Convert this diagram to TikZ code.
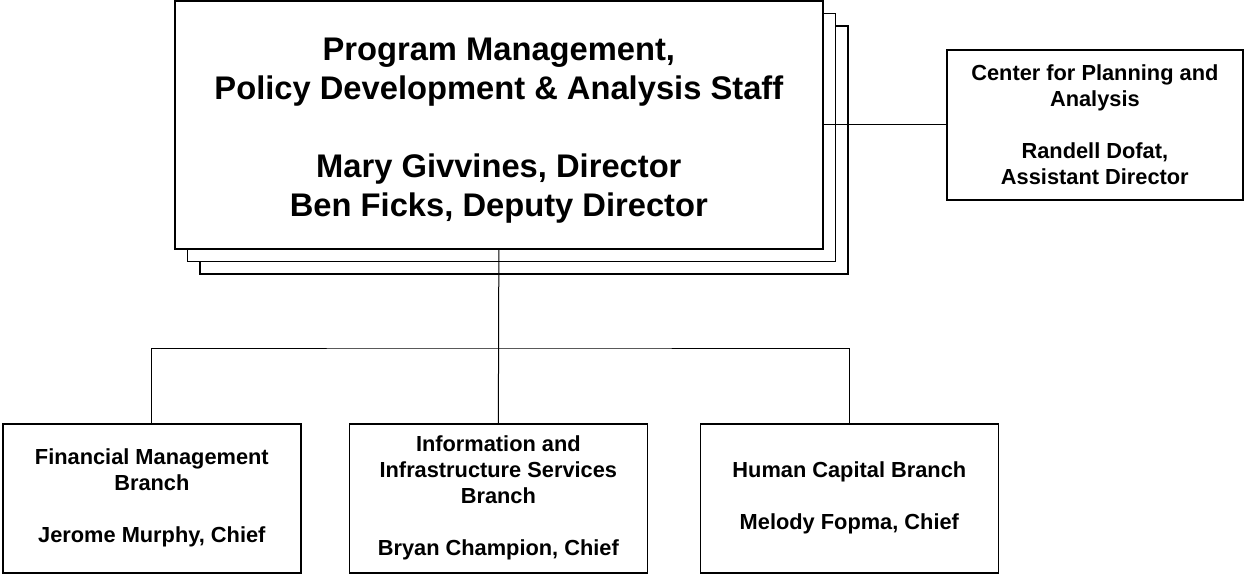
\documentclass[tikz,border=0pt]{standalone}
\usepackage{fontspec}
\setmainfont{Liberation Sans}

\begin{document}
\begin{tikzpicture}[x=1pt, y=-1pt,
        box/.style={draw, line width=1.7pt, fill=white, inner sep=0pt, align=center, anchor=north west,
            font=\bfseries\fontsize{21.8}{26}\selectfont},
        bigbox/.style={box, minimum width=648pt, minimum height=248pt,
            font=\bfseries\fontsize{32.7}{39}\selectfont},
        branch/.style={box, minimum width=298pt, minimum height=149pt},
        link/.style={line width=1pt}]
        \useasboundingbox (0,0) rectangle (1244,581);
        % staff office with its stacked copies
        \node[bigbox] (pmpd3) at (199,25) {};
        \node[bigbox] (pmpd2) at (186.5,12.5) {};
        \node[bigbox] (pmpd) at (174,0) {\rule{0pt}{34pt}Program Management,\\Policy Development \& Analysis Staff\\[39pt]Mary Givvines, Director\\Ben Ficks, Deputy Director};
        \node[box, minimum width=296pt, minimum height=150pt] (cpa) at (946,49) {Center for Planning and\\Analysis\\[26pt]Randell Dofat,\\Assistant Director};
        % branches
        \node[branch] (fmb) at (2,423) {Financial Management\\Branch\\[26pt]Jerome Murphy, Chief};
        \node[branch] (iisb) at (348.5,423) {Information and\\Infrastructure Services\\Branch\\[26pt]Bryan Champion, Chief};
        \node[branch] (hcb) at (699.5,423) {Human Capital Branch\\[26pt]Melody Fopma, Chief};
        \coordinate (bus) at (498,348);
        \draw[link] (pmpd.east) -- (cpa.west |- pmpd.east);
        \draw[link] (pmpd.south) -- (iisb.north);
        \draw[link] (fmb.north) |- (bus) -| (hcb.north);
    \end{tikzpicture}
\end{document}
